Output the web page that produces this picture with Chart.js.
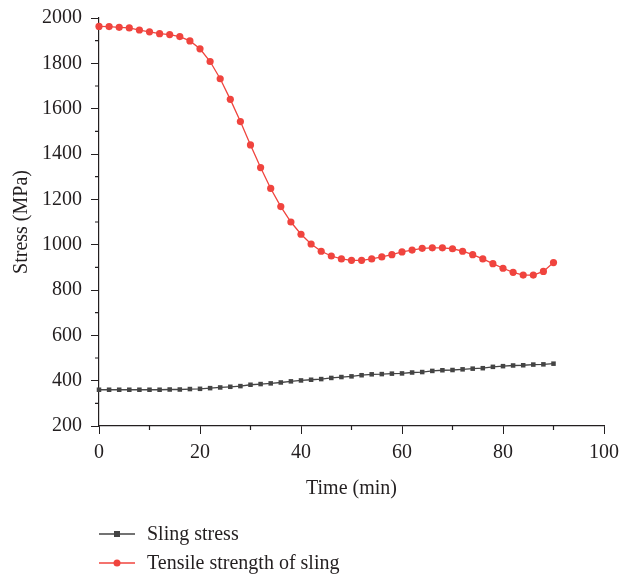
<!DOCTYPE html>
<html>
<head>
<meta charset="utf-8">
<script src="https://cdn.jsdelivr.net/npm/chart.js@4.4.1/dist/chart.umd.min.js"></script>
<style>
  html, body { margin: 0; padding: 0; background: #fff; }
  #wrap { width: 622px; height: 578px; }
</style>
</head>
<body>
<div id="wrap"><canvas id="stress"></canvas></div>
<script>
const timeMin = [0, 2, 4, 6, 8, 10, 12, 14, 16, 18, 20, 22, 24, 26, 28, 30, 32, 34, 36, 38, 40, 42, 44, 46,
  48, 50, 52, 54, 56, 58, 60, 62, 64, 66, 68, 70, 72, 74, 76, 78, 80, 82, 84, 86, 88, 90];
const slingStress = [360, 360, 360, 360, 360, 360, 360, 361, 361, 363, 364, 367, 370, 373, 376, 382,
  385, 388, 392, 397, 401, 404, 407, 412, 416, 419, 424, 428, 429, 431, 432, 436, 438, 443, 446, 447,
  450, 453, 455, 461, 464, 467, 468, 471, 472, 475];
const tensileStrength = [1963, 1962, 1959, 1956, 1947, 1939, 1931, 1927, 1918, 1899, 1864, 1808, 1732,
  1641, 1543, 1440, 1340, 1248, 1168, 1100, 1046, 1003, 971, 950, 937, 931, 931, 937, 946, 956, 968,
  976, 984, 986, 986, 982, 971, 956, 937, 916, 896, 878, 866, 866, 882, 921];
const seriesNames = ["Sling stress", "Tensile strength of sling"];
const xMajor = 20;
const yMajor = 200;

const ink = "#231f20";
const serif = "'Liberation Serif', 'DejaVu Serif', serif";

function toPoints(ys) {
  return timeMin.map((t, i) => ({ x: t, y: ys[i] }));
}

// short minor ticks between the labelled ones
const minorTicks = {
  id: "minorTicks",
  afterDraw(chart) {
    const c = chart.ctx;
    const { x, y } = chart.scales;
    c.save();
    c.strokeStyle = ink;
    c.lineWidth = 1.2;
    c.beginPath();
    x.ticks.forEach((t) => {
      if (t.value % xMajor !== 0) {
        const px = x.getPixelForValue(t.value);
        c.moveTo(px, x.top);
        c.lineTo(px, x.top + 4);
      }
    });
    y.ticks.forEach((t) => {
      if (t.value % yMajor !== 0) {
        const py = y.getPixelForValue(t.value);
        c.moveTo(y.right, py);
        c.lineTo(y.right - 4, py);
      }
    });
    c.stroke();
    c.restore();
  },
};

// legend drawn as two stacked rows under the x axis title
const stackedLegend = {
  id: "stackedLegend",
  afterDraw(chart) {
    const c = chart.ctx;
    const rows = [534, 563];
    chart.data.datasets.forEach((ds, i) => {
      const y = rows[i];
      c.save();
      c.strokeStyle = ds.borderColor;
      c.lineWidth = ds.borderWidth;
      c.beginPath();
      c.moveTo(99, y);
      c.lineTo(135, y);
      c.stroke();
      c.fillStyle = ds.pointBackgroundColor;
      if (ds.pointStyle === "rect") {
        c.fillRect(114, y - 3, 6, 6);
      } else {
        c.beginPath();
        c.arc(117, y, 3.5, 0, Math.PI * 2);
        c.fill();
      }
      c.fillStyle = ink;
      c.font = "20px " + serif;
      c.textBaseline = "middle";
      c.fillText(ds.label, 147, y + 1);
      c.restore();
    });
  },
};

const majorOnly = (step) => (ctx) => (ctx.tick && ctx.tick.value % step === 0 ? ink : "rgba(0,0,0,0)");

new Chart(document.getElementById("stress"), {
  type: "line",
  data: {
    datasets: [
      {
        label: seriesNames[0],
        data: toPoints(slingStress),
        borderColor: "#444444",
        backgroundColor: "#444444",
        pointBackgroundColor: "#444444",
        pointBorderWidth: 0,
        pointStyle: "rect",
        pointRadius: 3.2,
        borderWidth: 1.3,
        clip: false,
      },
      {
        label: seriesNames[1],
        data: toPoints(tensileStrength),
        borderColor: "#f0443e",
        backgroundColor: "#f0443e",
        pointBackgroundColor: "#f0443e",
        pointBorderWidth: 0,
        pointStyle: "circle",
        pointRadius: 3.6,
        borderWidth: 1.3,
        clip: false,
      },
    ],
  },
  options: {
    responsive: true,
    maintainAspectRatio: false,
    animation: false,
    layout: { padding: 0 },
    plugins: {
      legend: { display: false },
      tooltip: { enabled: false },
    },
    scales: {
      x: {
        type: "linear",
        min: 0,
        max: 100,
        afterFit: (scale) => {
          scale.height = 152;
          scale.paddingRight = 18;
        },
        border: { color: ink, width: 1.2 },
        grid: { drawOnChartArea: false, tickLength: 8, tickColor: majorOnly(xMajor) },
        ticks: {
          stepSize: 10,
          autoSkip: false,
          maxRotation: 0,
          color: ink,
          font: { family: serif, size: 20 },
          padding: 7,
          callback: (v) => (v % xMajor === 0 ? v : ""),
        },
        title: {
          display: true,
          text: "Time (min)",
          color: ink,
          font: { family: serif, size: 20 },
          padding: { top: 0, bottom: 77 },
        },
      },
      y: {
        min: 200,
        max: 2000,
        afterFit: (scale) => {
          scale.width = 99;
          scale.paddingTop = 18;
        },
        border: { color: ink, width: 1.2 },
        grid: { drawOnChartArea: false, tickLength: 8, tickColor: majorOnly(yMajor) },
        ticks: {
          stepSize: 100,
          autoSkip: false,
          color: ink,
          font: { family: serif, size: 20 },
          padding: 9,
          callback: (v) => (v % yMajor === 0 ? v : ""),
        },
        title: {
          display: true,
          text: "Stress (MPa)",
          color: ink,
          font: { family: serif, size: 20 },
          padding: { top: 10, bottom: 0 },
        },
      },
    },
  },
  plugins: [minorTicks, stackedLegend],
});
</script>
</body>
</html>
